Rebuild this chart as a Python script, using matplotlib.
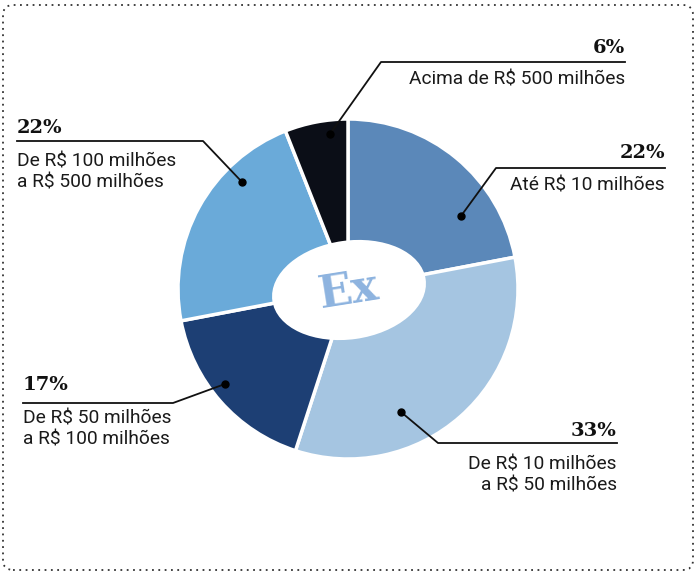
import matplotlib.pyplot as plt
from matplotlib.patches import Ellipse, FancyBboxPatch

labels = ['Até R$ 10 milhões', 'De R$ 10 milhões\na R$ 50 milhões',
          'De R$ 50 milhões\na R$ 100 milhões', 'De R$ 100 milhões\na R$ 500 milhões',
          'Acima de R$ 500 milhões']
values = [22, 33, 17, 22, 6]
colors = ['#5b88b9', '#a5c5e1', '#1d3f74', '#6aaad9', '#0b0e17']

H = 573
fig = plt.figure(figsize=(6.96, 5.73), dpi=100)
ax = fig.add_axes([0, 0, 1, 1])

ax.pie(values, colors=colors, startangle=90, counterclock=False,
       center=(348, H - 289), radius=170,
       wedgeprops=dict(edgecolor='white', linewidth=2.5))

# hole in the middle
ax.add_patch(Ellipse((349, H - 290), 152, 96, angle=8, facecolor='white',
                     edgecolor='white', linewidth=2, zorder=5))
ax.text(349, H - 291, 'Ex', fontsize=32, fontweight='bold', family='DejaVu Serif',
        color='#8db3df', ha='center', va='center', rotation=9, zorder=6)

sans = 'Roboto'
serif = 'DejaVu Serif'

# (dot, elbow, line end, text x, align, pct y, label y)
callouts = [
    ((461, 216), (496, 168), 665, 'right', 153, 186),
    ((401, 412), (438, 443), 617, 'right', 431, 475),
    ((225, 384), (173, 403), 23, 'left', 385, 429),
    ((242, 182), (203, 141), 17, 'left', 128, 172),
    ((330, 134), (381, 62), 625, 'right', 48, 80),
]

for v, lab, (dot, elbow, xend, ha, ypct, ylab) in zip(values, labels, callouts):
    ax.plot([dot[0], elbow[0], xend], [H - dot[1], H - elbow[1], H - elbow[1]],
            color='#111111', lw=1.3, zorder=7)
    ax.plot(dot[0], H - dot[1], 'o', color='black', ms=5, zorder=8)
    ax.text(xend, H - ypct, f'{v}%', family=serif, fontweight='bold', fontsize=14,
            ha=ha, va='center', color='#111111')
    ax.text(xend, H - ylab, lab, family=sans, fontsize=13.8, ha=ha, va='center',
            color='#1a1a1a', linespacing=1.2, multialignment=ha)

ax.set_xlim(0, 696)
ax.set_ylim(0, H)
ax.set_aspect('auto')
ax.axis('off')

border = FancyBboxPatch((3, 3), 690, H - 8, boxstyle='round,pad=0,rounding_size=10',
                        facecolor='none', edgecolor='#333333', linestyle=(0, (1, 2.5)),
                        linewidth=1.3, transform=ax.transData, clip_on=False)
ax.add_patch(border)

fig.savefig('out.png', dpi=100)
